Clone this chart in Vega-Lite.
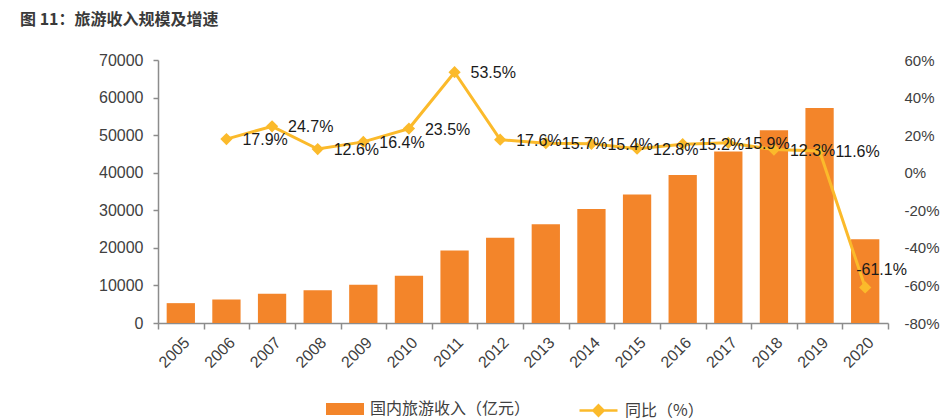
{
  "$schema": "https://vega.github.io/schema/vega-lite/v6.json",
  "width": 730,
  "height": 263,
  "autosize": "none",
  "padding": {"left": 158, "top": 60, "right": 61, "bottom": 96},
  "background": "white",
  "config": {
    "view": {"stroke": null},
    "font": "Liberation Sans, Noto Sans CJK SC",
    "locale": {"number": {"decimal": ".", "thousands": ",", "grouping": [3], "currency": ["", ""], "minus": "-"}},
    "axis": {"labelFont": "Liberation Sans, Noto Sans CJK SC", "labelColor": "#404040", "grid": false, "title": null, "labelOverlap": false}
  },
  "title": {
    "text": "图 11：旅游收入规模及增速",
    "anchor": "start",
    "frame": "group",
    "dx": -138,
    "offset": 24,
    "fontSize": 16,
    "fontWeight": "bold",
    "color": "#3a3a3a",
    "font": "Noto Sans CJK SC"
  },
  "data": {"values": [
    {"year": "2005", "income": 5286, "pct": null},
    {"year": "2006", "income": 6230, "pct": 0.179},
    {"year": "2007", "income": 7771, "pct": 0.247},
    {"year": "2008", "income": 8749, "pct": 0.126},
    {"year": "2009", "income": 10184, "pct": 0.164},
    {"year": "2010", "income": 12580, "pct": 0.235},
    {"year": "2011", "income": 19305, "pct": 0.535},
    {"year": "2012", "income": 22706, "pct": 0.176},
    {"year": "2013", "income": 26276, "pct": 0.157},
    {"year": "2014", "income": 30312, "pct": 0.154},
    {"year": "2015", "income": 34195, "pct": 0.128},
    {"year": "2016", "income": 39390, "pct": 0.152},
    {"year": "2017", "income": 45661, "pct": 0.159},
    {"year": "2018", "income": 51278, "pct": 0.123},
    {"year": "2019", "income": 57251, "pct": 0.116},
    {"year": "2020", "income": 22286, "pct": -0.611}
  ]},
  "encoding": {
    "x": {
      "field": "year", "type": "ordinal",
      "scale": {"paddingInner": 0, "paddingOuter": 0},
      "axis": {
        "labelAngle": -45, "labelFontSize": 16, "tickBand": "extent", "tickSize": 6,
        "domainColor": "#8c8c8c", "tickColor": "#8c8c8c", "domainWidth": 1.5, "tickWidth": 1.5, "labelPadding": 5
      }
    }
  },
  "layer": [
    {
      "mark": {"type": "bar", "color": "#F3852A", "width": {"band": 0.62}},
      "encoding": {
        "y": {
          "field": "income", "type": "quantitative",
          "scale": {"domain": [0, 70000], "nice": false},
          "axis": {"values": [0, 10000, 20000, 30000, 40000, 50000, 60000, 70000], "format": "d",
            "labelFontSize": 16, "tickSize": 5, "labelPadding": 10,
            "domainColor": "#8c8c8c", "tickColor": "#8c8c8c", "domainWidth": 1.5, "tickWidth": 1.5}
        },
        "color": {
          "datum": "国内旅游收入（亿元）",
          "scale": {"range": ["#F3852A"]},
          "legend": {
            "orient": "none", "legendX": 168, "legendY": 330, "title": null,
            "symbolType": "M-1,-0.32H1V0.32H-1Z", "symbolSize": 1444,
            "symbolStrokeWidth": 0, "labelLimit": 0,
            "labelFontSize": 16, "labelColor": "#404040", "labelFont": "Noto Sans CJK SC", "labelOffset": 6
          }
        }
      }
    },
    {
      "transform": [{"filter": "datum.pct != null"}],
      "encoding": {
        "y": {
          "field": "pct", "type": "quantitative",
          "scale": {"domain": [-0.8, 0.6], "nice": false},
          "axis": {"orient": "right", "values": [-0.8, -0.6, -0.4, -0.2, 0, 0.2, 0.4, 0.6], "format": ".0%",
            "labelFontSize": 15, "domain": false, "ticks": false, "labelPadding": 16,
            "labelOverlap": false, "labelBound": false, "labelFlush": false}
        }
      },
      "layer": [
        {
          "mark": {"type": "line", "color": "#FBBA2B", "strokeWidth": 3,
            "point": {"shape": "diamond", "size": 150, "filled": true, "color": "#FBBA2B"}},
          "encoding": {
            "color": {
              "datum": "同比（%）",
              "scale": {"range": ["#FBBA2B"]},
              "legend": {
                "orient": "none", "legendX": 420, "legendY": 330, "title": null,
                "symbolType": "M-1,0H1M0,-0.27L0.27,0L0,0.27L-0.27,0Z", "symbolSize": 1444,
                "symbolStrokeWidth": 2.5, "symbolFillColor": "#FBBA2B", "symbolStrokeColor": "#FBBA2B",
                "labelLimit": 0,
                "labelFontSize": 16, "labelColor": "#404040", "labelFont": "Noto Sans CJK SC", "labelOffset": 6
              }
            }
          }
        },
        {
          "transform": [{"filter": "datum.year != '2020'"}],
          "mark": {"type": "text", "align": "left", "baseline": "middle", "dx": 16, "dy": 1, "fontSize": 16, "color": "#1a1a1a"},
          "encoding": {
            "text": {"field": "pct", "type": "quantitative", "format": ".1%"}
          }
        },
        {
          "transform": [{"filter": "datum.year == '2020'"}],
          "mark": {"type": "text", "align": "left", "baseline": "middle", "dx": -9, "dy": -17, "fontSize": 16, "color": "#1a1a1a"},
          "encoding": {
            "text": {"field": "pct", "type": "quantitative", "format": ".1%"}
          }
        }
      ]
    }
  ],
  "resolve": {"scale": {"y": "independent", "color": "independent"}}
}
